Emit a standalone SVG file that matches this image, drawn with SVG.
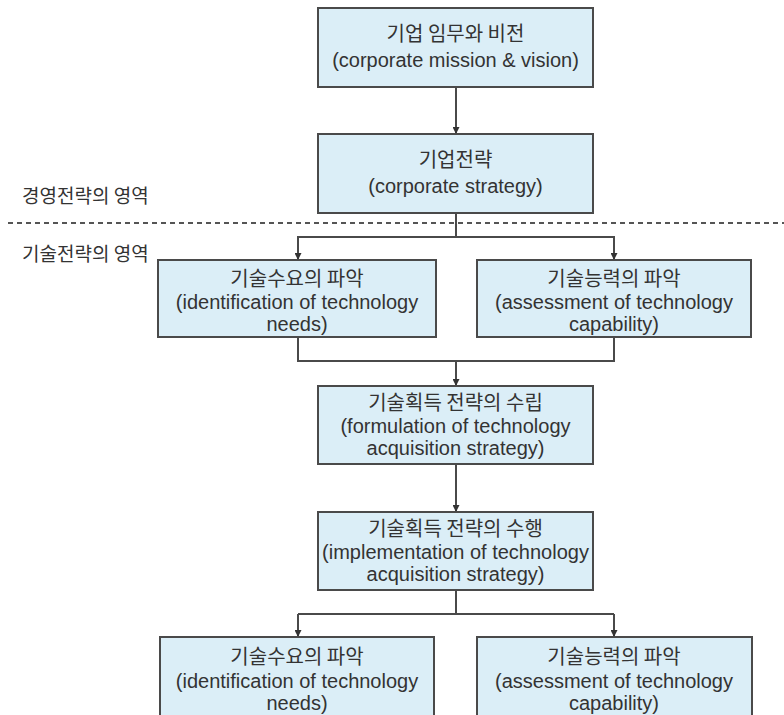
<svg xmlns="http://www.w3.org/2000/svg" width="784" height="715" viewBox="0 0 784 715">
<style>
.box{fill:#dbeef7;stroke:#4a4a4a;stroke-width:2}
.t{font-family:"Liberation Sans","Noto Sans CJK KR",sans-serif;font-size:20px;fill:#333;text-anchor:middle}
.k{font-family:"Noto Sans CJK KR","Liberation Sans",sans-serif;font-size:20px;fill:#333;text-anchor:middle}
.lab{font-family:"Noto Sans CJK KR",sans-serif;font-size:19px;fill:#333}
.ln{fill:none;stroke:#4a4a4a;stroke-width:2}
.dash{fill:none;stroke:#555;stroke-width:2;stroke-dasharray:5 4}
</style>
<defs>
<marker id="ah" viewBox="0 0 10 10" refX="10" refY="5" markerWidth="7" markerHeight="7" markerUnits="userSpaceOnUse" orient="auto">
<path d="M0,0 L10,5 L0,10 z" fill="#333"/>
</marker>
</defs>
<rect width="784" height="715" fill="#fff"/>
<g id="labels">
<text class="lab" x="22" y="203">경영전략의 영역</text>
<text class="lab" x="22" y="261">기술전략의 영역</text>
<line class="dash" x1="8" y1="223" x2="784" y2="223"/>
</g>
<g id="connectors">
<line class="ln" x1="456" y1="87" x2="456" y2="134" marker-end="url(#ah)"/>
<polyline class="ln" points="456,213 456,237"/>
<polyline class="ln" points="298,260 298,237 614,237 614,260"/>
<line class="ln" x1="298" y1="237" x2="298" y2="260" marker-end="url(#ah)"/>
<line class="ln" x1="614" y1="237" x2="614" y2="260" marker-end="url(#ah)"/>
<polyline class="ln" points="298,337 298,361 614,361 614,337"/>
<line class="ln" x1="456" y1="361" x2="456" y2="386" marker-end="url(#ah)"/>
<line class="ln" x1="456" y1="464" x2="456" y2="512" marker-end="url(#ah)"/>
<polyline class="ln" points="456,590 456,614"/>
<polyline class="ln" points="298,614 614,614"/>
<line class="ln" x1="298" y1="614" x2="298" y2="637" marker-end="url(#ah)"/>
<line class="ln" x1="614" y1="614" x2="614" y2="637" marker-end="url(#ah)"/>
</g>
<g id="n1">
<rect class="box" x="318" y="8" width="275" height="79"/>
<text class="k" x="455.5" y="41">기업 임무와 비전</text>
<text class="t" x="455.5" y="67">(corporate mission &amp; vision)</text>
</g>
<g id="n2">
<rect class="box" x="318" y="134" width="275" height="79"/>
<text class="k" x="455.5" y="167">기업전략</text>
<text class="t" x="455.5" y="193">(corporate strategy)</text>
</g>
<g id="n3">
<rect class="box" x="158" y="260" width="278" height="77"/>
<text class="k" x="297" y="286">기술수요의 파악</text>
<text class="t" x="297" y="309">(identification of technology</text>
<text class="t" x="297" y="331">needs)</text>
</g>
<g id="n4">
<rect class="box" x="477" y="260" width="274" height="77"/>
<text class="k" x="614" y="286">기술능력의 파악</text>
<text class="t" x="614" y="309">(assessment of technology</text>
<text class="t" x="614" y="331">capability)</text>
</g>
<g id="n5">
<rect class="box" x="318" y="386" width="275" height="78"/>
<text class="k" x="455.5" y="410">기술획득 전략의 수립</text>
<text class="t" x="455.5" y="433">(formulation of technology</text>
<text class="t" x="455.5" y="455">acquisition strategy)</text>
</g>
<g id="n6">
<rect class="box" x="318" y="512" width="275" height="78"/>
<text class="k" x="455.5" y="536">기술획득 전략의 수행</text>
<text class="t" x="455.5" y="559">(implementation of technology</text>
<text class="t" x="455.5" y="581">acquisition strategy)</text>
</g>
<g id="n7">
<rect class="box" x="160" y="637" width="274" height="80"/>
<text class="k" x="297" y="664">기술수요의 파악</text>
<text class="t" x="297" y="688">(identification of technology</text>
<text class="t" x="297" y="710">needs)</text>
</g>
<g id="n8">
<rect class="box" x="477" y="637" width="275" height="80"/>
<text class="k" x="614" y="664">기술능력의 파악</text>
<text class="t" x="614" y="688">(assessment of technology</text>
<text class="t" x="614" y="710">capability)</text>
</g>
</svg>
